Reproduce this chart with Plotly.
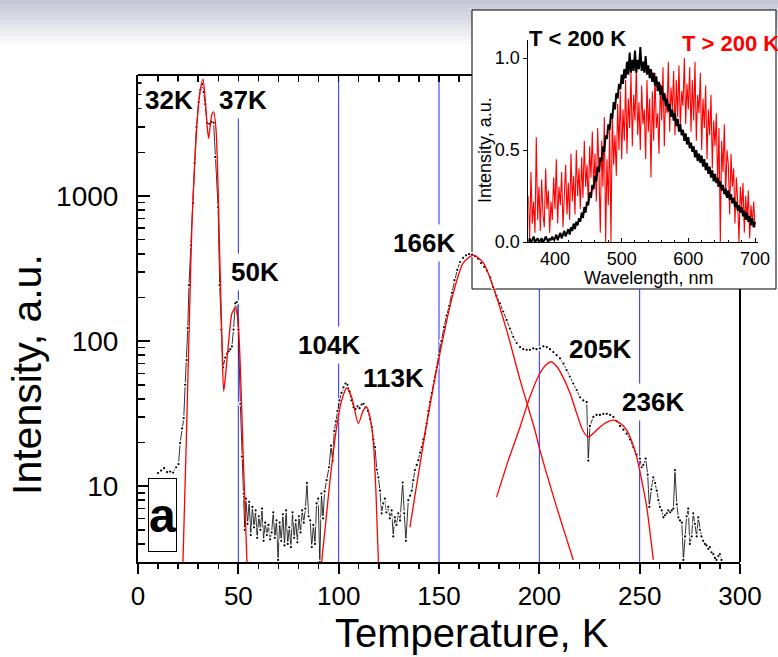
import math
import plotly.graph_objects as go

# ---------------- data ----------------
temperature_K = [
    10.0, 11.5, 13.0, 14.5, 16.0, 17.5, 19.0, 20.2, 21.0, 22.0, 22.8, 23.5, 24.2, 24.8, 25.4,
    26.4, 27.4, 28.2, 29.1, 30.2, 31.1, 31.9, 32.7, 33.5, 34.4, 35.5, 36.6, 37.7, 38.5, 39.9,
    40.7, 41.5, 42.4, 43.5, 44.4, 45.2, 46.0, 46.8, 47.6, 48.5, 49.2, 50.0, 51.0, 51.8, 52.7,
    53.2, 53.8, 54.6, 55.4, 56.2, 57.0, 57.8, 58.6, 59.4, 60.2, 61.0, 61.8, 62.6, 63.4, 64.2,
    65.0, 65.8, 66.6, 67.4, 68.2, 69.0, 69.8, 70.6, 71.4, 72.2, 73.0, 73.8, 74.6, 75.4, 76.2,
    77.0, 77.8, 78.6, 79.4, 80.2, 81.0, 81.8, 82.6, 83.4, 84.2, 85.0, 85.8, 86.6, 87.4, 88.2,
    89.0, 89.8, 90.6, 91.4, 92.2, 93.0, 94.0, 95.2, 96.2, 97.0, 97.8, 98.6, 99.4, 100.4, 101.4,
    102.4, 103.4, 104.4, 105.4, 106.4, 107.4, 108.4, 109.4, 110.4, 111.4, 112.4, 113.4, 114.6, 115.6, 116.5,
    117.3, 118.1, 119.0, 119.8, 120.6, 121.4, 122.2, 123.0, 123.8, 124.7, 125.5, 126.4, 127.2, 128.0, 128.8,
    129.7, 130.6, 131.9, 132.7, 133.5, 134.7, 135.6, 136.4, 137.2, 138.0, 138.9, 139.7, 140.6, 141.4, 142.2,
    143.0, 143.8, 144.7, 145.5, 146.4, 147.6, 148.9, 150.0, 151.2, 152.5, 153.8, 155.1, 156.4, 157.7, 159.1,
    160.5, 162.0, 163.5, 165.0, 166.5, 168.0, 169.5, 171.0, 172.5, 174.0, 175.5, 177.0, 178.6, 180.4, 182.0,
    183.7, 185.3, 187.0, 188.7, 190.4, 192.0, 193.7, 195.3, 197.0, 198.6, 200.3, 202.0, 203.7, 205.3, 207.0,
    208.6, 210.3, 212.0, 213.6, 215.2, 216.9, 218.6, 220.3, 221.9, 223.6, 224.4, 225.2, 226.9, 228.5, 230.2,
    231.9, 233.6, 235.3, 236.9, 238.6, 240.2, 241.9, 243.5, 245.2, 246.8, 248.5, 250.1, 251.0, 251.8, 253.0,
    254.0, 254.8, 255.8, 256.8, 257.7, 258.5, 259.3, 260.1, 261.0, 261.8, 262.6, 263.5, 264.3, 265.2, 266.0,
    266.8, 267.6, 268.5, 269.3, 270.1, 271.0, 271.8, 272.6, 273.4, 274.2, 275.0, 275.9, 276.7, 277.5, 278.4,
    279.2, 280.0, 280.8, 281.6, 282.5, 283.3, 284.2, 285.0, 285.8, 286.7, 287.5, 288.3, 289.2, 290.0, 290.8,
]
intensity_au = [
    12.3, 12.8, 13.3, 12.5, 12.6, 12.4, 13.5, 14.2, 19.8, 25.0, 29.5, 50, 74, 123, 243,
    458, 895, 1690, 2990, 4450, 5400, 5900, 5200, 4300, 3200, 3150, 3250, 3200, 1860, 840,
    243, 120, 66, 77, 82, 85, 88, 92, 120, 182, 186, 120, 37, 16, 8.9,
    5.0, 8.2, 5.5, 7.8, 4.6, 7.2, 5.2, 6.8, 4.4, 6.2, 5.0, 7.0, 4.2, 5.6, 4.6,
    5.4, 4.3, 4.8, 6.6, 4.4, 5.8, 3.1, 5.6, 4.2, 6.4, 3.9, 6.8, 4.0, 5.2, 3.8,
    6.6, 4.4, 5.8, 4.1, 6.2, 4.8, 6.8, 5.6, 7.0, 10.5, 6.2, 5.8, 3.8, 5.4, 4.0,
    7.6, 8.2, 3.0, 8.9, 6.0, 9.2, 11.0, 13.5, 19.0, 15.0, 24.0, 28, 33, 39, 44,
    48, 51, 50, 45, 39, 35, 34, 35.5, 34.5, 36.5, 37, 35, 33, 29, 25.6,
    21, 18.6, 13, 11.5, 9.3, 6.5, 7.6, 8.2, 6.6, 7.2, 6.0, 6.8, 4.5, 6.1, 5.4,
    6.5, 5.8, 10.6, 6.5, 4.2, 8.0, 8.6, 9.3, 11.0, 12.9, 14.0, 15.1, 17, 18.6, 21,
    23, 27, 33, 38, 44, 53, 66, 80, 100, 125, 150, 175, 215, 263, 310,
    351, 375, 390, 398, 395, 385, 370, 345, 325, 305, 275, 236, 205, 182, 160,
    140, 122, 107, 97, 91, 88, 87, 87, 89, 88, 89, 92, 91, 88, 84,
    80, 76, 70, 63, 57, 51, 46, 41, 39, 38, 15, 26, 30, 31, 31,
    31.5, 31.5, 31, 30, 28, 26, 24.5, 23, 21, 18.6, 16.5, 15.5, 13.5, 14, 15.5,
    12, 7.2, 9.5, 11.5, 10.5, 9.3, 8.0, 7.2, 6.8, 6.1, 6.3, 6.5, 6.8, 6.6, 6.8,
    7.0, 12.9, 7.5, 6.1, 5.8, 5.6, 3.1, 4.5, 6.2, 7.0, 4.0, 4.5, 6.5, 5.5, 4.5,
    6.1, 5.0, 4.5, 4.2, 4.0, 3.9, 3.7, 3.8, 3.5, 3.4, 3.2, 3.1, 3.3, 3.4, 3.1,
]

# fitted peak envelopes (red)
fit1_T = [22.4, 24.0, 25.6, 26.9, 28.1, 29.4, 31.0, 32.4, 33.5, 34.5, 35.2, 36.0, 36.8, 37.7, 38.9,
          39.9, 40.7, 41.4, 41.9, 42.7, 43.5, 45.2, 46.8, 48.5, 49.8, 51.0, 52.3, 53.5, 54.3]
fit1_I = [3.0, 19, 140, 650, 1510, 3170, 5380, 6400, 4600, 3000, 2500, 3050, 3650, 3800, 2850,
          1150, 400, 175, 87, 45, 56, 100, 155, 170, 140, 66, 18, 6.2, 3.0]
fit2_T = [91.5, 93.6, 95.7, 99.0, 101.5, 104.0, 106.5, 109.8, 112.3, 114.0, 115.6, 117.3, 118.6, 119.8]
fit2_I = [3.0, 5.7, 11, 25.6, 39, 47.5, 41, 27, 33.4, 35, 30, 20, 8.9, 3.0]
fit3_T = [135.5, 143.9, 150.5, 157.1, 162.1, 167.1, 172.1, 177.0, 183.7, 190.4, 197.8, 200.3, 208.6, 216.9]
fit3_I = [5.2, 27, 83, 214, 346, 392, 346, 236, 119, 54, 24.3, 17.7, 7.2, 3.1]
fit4_T = [178.7, 184.5, 190.4, 195.5, 200.3, 203.5, 206.1, 209.0, 211.9, 215.5, 218.6, 221.5,
          224.4, 227.5, 230.2, 233.5, 236.9, 240.5, 243.5, 246.0, 248.5, 251.0, 253.5, 256.8]
fit4_I = [8.4, 15, 25.6, 42, 60, 69, 72, 66, 56, 43, 31.8, 24.5,
          21.8, 23.5, 25.6, 27.5, 28.5, 27, 24.3, 20.5, 15.9, 11, 7.2, 3.1]
fits = [(fit1_T, fit1_I), (fit2_T, fit2_I), (fit3_T, fit3_I), (fit4_T, fit4_I)]

peak_labels = ["32K", "37K", "50K", "104K", "113K", "166K", "205K", "236K"]
ref_lines_T = [50, 100, 150, 200, 250]
main_x_ticks = [0, 50, 100, 150, 200, 250, 300]
main_y_ticks = [10, 100, 1000]
main_y_minor = [3, 4, 5, 6, 7, 8, 9, 20, 30, 40, 50, 60, 70, 80, 90,
                200, 300, 400, 500, 600, 700, 800, 900, 2000, 3000, 4000, 5000, 6000]

# inset spectra (2 nm steps)
wavelength_nm = [
    360, 362, 364, 366, 368, 370, 372, 374, 376, 378,
    380, 382, 384, 386, 388, 390, 392, 394, 396, 398,
    400, 402, 404, 406, 408, 410, 412, 414, 416, 418,
    420, 422, 424, 426, 428, 430, 432, 434, 436, 438,
    440, 442, 444, 446, 448, 450, 452, 454, 456, 458,
    460, 462, 464, 466, 468, 470, 472, 474, 476, 478,
    480, 482, 484, 486, 488, 490, 492, 494, 496, 498,
    500, 502, 504, 506, 508, 510, 512, 514, 516, 518,
    520, 522, 524, 526, 528, 530, 532, 534, 536, 538,
    540, 542, 544, 546, 548, 550, 552, 554, 556, 558,
    560, 562, 564, 566, 568, 570, 572, 574, 576, 578,
    580, 582, 584, 586, 588, 590, 592, 594, 596, 598,
    600, 602, 604, 606, 608, 610, 612, 614, 616, 618,
    620, 622, 624, 626, 628, 630, 632, 634, 636, 638,
    640, 642, 644, 646, 648, 650, 652, 654, 656, 658,
    660, 662, 664, 666, 668, 670, 672, 674, 676, 678,
    680, 682, 684, 686, 688, 690, 692, 694, 696, 698,
    700,
]
spectrum_below_200K = [
    0.00, 0.02, 0.00, 0.01, 0.03, 0.00, 0.01, 0.02, 0.00, 0.01,
    0.02, 0.00, 0.01, 0.03, 0.01, 0.00, 0.02, 0.01, 0.03, 0.01,
    0.02, 0.04, 0.01, 0.03, 0.05, 0.02, 0.04, 0.06, 0.03, 0.05,
    0.07, 0.04, 0.08, 0.06, 0.10, 0.07, 0.11, 0.09, 0.13, 0.11,
    0.16, 0.13, 0.19, 0.16, 0.22, 0.20, 0.27, 0.24, 0.31, 0.29,
    0.36, 0.33, 0.41, 0.38, 0.46, 0.44, 0.52, 0.49, 0.58, 0.56,
    0.64, 0.61, 0.70, 0.67, 0.76, 0.72, 0.81, 0.78, 0.86, 0.83,
    0.91, 0.86, 0.94, 0.89, 0.98, 0.91, 1.03, 0.92, 0.99, 0.93,
    1.04, 0.92, 0.99, 0.94, 1.06, 0.93, 0.98, 0.92, 1.01, 0.91,
    0.96, 0.89, 0.94, 0.87, 0.92, 0.85, 0.90, 0.82, 0.87, 0.80,
    0.85, 0.77, 0.81, 0.74, 0.78, 0.71, 0.75, 0.68, 0.72, 0.66,
    0.70, 0.63, 0.67, 0.60, 0.64, 0.58, 0.61, 0.55, 0.59, 0.53,
    0.57, 0.51, 0.54, 0.49, 0.52, 0.46, 0.50, 0.44, 0.48, 0.43,
    0.47, 0.41, 0.45, 0.39, 0.43, 0.37, 0.41, 0.35, 0.39, 0.33,
    0.37, 0.32, 0.35, 0.30, 0.33, 0.28, 0.31, 0.26, 0.29, 0.24,
    0.28, 0.23, 0.26, 0.21, 0.24, 0.19, 0.22, 0.17, 0.20, 0.16,
    0.19, 0.14, 0.17, 0.12, 0.16, 0.11, 0.14, 0.09, 0.13, 0.08,
    0.11,
]
spectrum_above_200K = [
    0.25, 0.02, 0.38, 0.10, 0.22, 0.05, 0.57, 0.12, 0.30, 0.06,
    0.34, 0.15, 0.08, 0.40, 0.18, 0.28, 0.05, 0.22, 0.12, 0.35,
    0.18, 0.45, 0.10, 0.30, 0.20, 0.38, 0.08, 0.26, 0.42, 0.15,
    0.32, 0.12, 0.48, 0.22, 0.36, 0.15, 0.50, 0.25, 0.40, 0.18,
    0.46, 0.24, 0.55, 0.30, 0.42, 0.20, 0.52, 0.35, 0.60, 0.28,
    0.48, 0.22, 0.62, 0.38, 0.05, 0.55, 0.30, 0.68, 0.00, 0.45,
    0.20, 0.62, 0.00, 0.70, 0.42, 0.58, 0.36, 0.75, 0.50, 0.82,
    0.45, 0.72, 0.55, 0.88, 0.48, 0.78, 0.62, 0.92, 0.52, 0.80,
    0.66, 0.95, 0.58, 0.76, 0.50, 0.85, 0.64, 0.72, 0.45, 0.88,
    0.60, 0.78, 0.35, 0.82, 0.55, 0.92, 0.62, 0.70, 0.48, 0.86,
    0.66, 0.95, 0.52, 0.80, 0.70, 0.98, 0.60, 0.84, 0.72, 0.93,
    0.58, 0.88, 0.68, 0.96, 0.62, 0.82, 0.74, 1.00, 0.64, 0.86,
    0.72, 0.95, 0.60, 0.88, 0.66, 0.98, 0.55, 0.80, 0.70, 0.92,
    0.50, 0.78, 0.62, 0.85, 0.45, 0.72, 0.58, 0.80, 0.40, 0.66,
    0.52, 0.70, 0.30, 0.62, 0.00, 0.55, 0.38, 0.64, 0.25, 0.50,
    0.42, 0.15, 0.48, 0.30, 0.40, 0.10, 0.35, 0.22, 0.00, 0.30,
    0.18, 0.32, 0.05, 0.25, 0.12, 0.28, 0.02, 0.20, 0.10, 0.22,
    0.08,
]
inset_x_ticks = [400, 500, 600, 700]
inset_y_ticks = [0.0, 0.5, 1.0]

# ---------------- layout helpers (pixel -> paper) ----------------
W, H = 778, 657
ML, MR, MT, MB = 138, 10, 10, 95
PW, PH = W - ML - MR, H - MT - MB


def fx(px):
    return (px - ML) / PW


def fy(py):
    return (H - MB - py) / PH


FONT = "Liberation Sans, Arial, sans-serif"
BLUE = "rgb(40,40,255)"

fig = go.Figure()

# black measured curve: thin line, white gaps around points, then dots
fig.add_trace(go.Scatter(x=temperature_K, y=intensity_au, mode="lines",
                         line=dict(color="black", width=0.8), hoverinfo="skip"))
fig.add_trace(go.Scatter(x=temperature_K, y=intensity_au, mode="markers",
                         marker=dict(color="white", size=5, line=dict(width=0)), hoverinfo="skip"))
fig.add_trace(go.Scatter(x=temperature_K, y=intensity_au, mode="markers",
                         marker=dict(color="black", size=2.2, line=dict(width=0))))
for ft, fi in fits:
    fig.add_trace(go.Scatter(x=ft, y=fi, mode="lines",
                             line=dict(color="red", width=1.3, shape="spline", smoothing=0.7)))

# inset spectra
fig.add_trace(go.Scatter(x=wavelength_nm, y=spectrum_above_200K, mode="lines",
                         line=dict(color="red", width=1.1), xaxis="x2", yaxis="y2"))
fig.add_trace(go.Scatter(x=wavelength_nm, y=spectrum_below_200K, mode="lines",
                         line=dict(color="black", width=2), xaxis="x2", yaxis="y2"))
# carrier for the partial top / right frame axes
fig.add_trace(go.Scatter(x=[None], y=[None], xaxis="x3", yaxis="y3", showlegend=False))

shapes = []
# slide-like gradient at the top
n_strips = 11
for i in range(n_strips):
    t = i / n_strips
    c = (int(198 + 57 * t), int(198 + 57 * t), int(214 + 41 * t))
    shapes.append(dict(type="rect", xref="paper", yref="paper", layer="below",
                       x0=fx(0), x1=fx(W), y0=fy(4 * (i + 1)), y1=fy(4 * i),
                       fillcolor="rgb(%d,%d,%d)" % c, line=dict(width=0)))
# inset frame
shapes.append(dict(type="rect", xref="paper", yref="paper", layer="below",
                   x0=fx(472), x1=fx(776), y0=fy(289), y1=fy(10),
                   fillcolor="white", line=dict(color="black", width=1)))
# blue reference lines
line_tops = {50: fy(114), 100: fy(75), 150: fy(75), 200: fy(289), 250: fy(289)}
for tv in ref_lines_T:
    shapes.append(dict(type="line", xref="x", yref="paper", layer="below",
                       x0=tv, x1=tv, y0=0, y1=line_tops[tv],
                       line=dict(color=BLUE, width=1)))

annotations = []
label_pos = [(169, 100), (243, 100), (255, 272), (329, 345), (393, 378),
             (424, 243), (600, 349), (653, 402)]
for txt, (px, py) in zip(peak_labels, label_pos):
    annotations.append(dict(text="<b>%s</b>" % txt, xref="paper", yref="paper",
                            x=fx(px), y=fy(py), xanchor="center", yanchor="middle",
                            showarrow=False, bgcolor="white", borderpad=3,
                            font=dict(family=FONT, size=26, color="black")))
# panel letter
annotations.append(dict(text="<b>a</b>", xref="paper", yref="paper",
                        x=fx(162.5), y=fy(515), xanchor="center", yanchor="middle",
                        width=27, height=72, showarrow=False, bgcolor="white",
                        bordercolor="black", borderwidth=1, borderpad=0,
                        font=dict(family=FONT, size=48, color="black")))
# main axis titles
annotations.append(dict(text="Temperature, K", xref="paper", yref="paper",
                        x=fx(472), y=fy(633), xanchor="center", yanchor="middle",
                        showarrow=False, font=dict(family=FONT, size=40, color="black")))
annotations.append(dict(text="Intensity, a.u.", xref="paper", yref="paper",
                        x=fx(27), y=fy(374), xanchor="center", yanchor="middle",
                        textangle=-90, showarrow=False,
                        font=dict(family=FONT, size=41, color="black")))
# inset texts
annotations.append(dict(text="Wavelength, nm", xref="paper", yref="paper",
                        x=fx(648), y=fy(278), xanchor="center", yanchor="middle",
                        showarrow=False, font=dict(family=FONT, size=18, color="black")))
annotations.append(dict(text="Intensity, a.u.", xref="paper", yref="paper",
                        x=fx(485), y=fy(150), xanchor="center", yanchor="middle",
                        textangle=-90, showarrow=False,
                        font=dict(family=FONT, size=18, color="black")))
annotations.append(dict(text="<b>T &lt; 200 K</b>", xref="paper", yref="paper",
                        x=fx(577), y=fy(38), xanchor="center", yanchor="middle",
                        showarrow=False, font=dict(family=FONT, size=22, color="black")))
annotations.append(dict(text="<b>T &gt; 200 K</b>", xref="paper", yref="paper",
                        x=fx(680), y=fy(43), xanchor="left", yanchor="middle",
                        showarrow=False, font=dict(family=FONT, size=22, color="red")))

ymin, ymax = math.log10(3.0), math.log10(6830)

fig.update_layout(
    width=W, height=H,
    margin=dict(l=ML, r=MR, t=MT, b=MB, autoexpand=False),
    paper_bgcolor="white", plot_bgcolor="rgba(0,0,0,0)",
    showlegend=False,
    font=dict(family=FONT, color="black"),
    shapes=shapes, annotations=annotations,
    xaxis=dict(domain=[0, fx(740)], range=[0, 300], anchor="y", automargin=False,
               showline=True, linewidth=2, linecolor="black", mirror=False,
               showgrid=False, zeroline=False,
               tickvals=main_x_ticks, ticks="outside", ticklen=10, tickwidth=2, tickcolor="black",
               tickfont=dict(family=FONT, size=26), ticklabelstandoff=0,
               minor=dict(ticks="outside", ticklen=5, tickwidth=1.5, tickcolor="black",
                          dtick=10, tick0=0, showgrid=False)),
    yaxis=dict(domain=[0, fy(75)], type="log", range=[ymin, ymax], anchor="x", automargin=False,
               showline=True, linewidth=2, linecolor="black", mirror=False,
               showgrid=False, zeroline=False,
               tickvals=main_y_ticks, ticktext=[str(v) for v in main_y_ticks],
               ticks="inside", ticklen=12, tickwidth=2, tickcolor="black",
               tickfont=dict(family=FONT, size=28), ticklabelstandoff=12,
               minor=dict(ticks="inside", ticklen=7, tickwidth=1.5, tickcolor="black",
                          tickvals=main_y_minor, showgrid=False)),
    xaxis3=dict(domain=[0, fx(472)], range=[0, (472 - 138) / (602 / 300)], automargin=False,
                anchor="free", position=fy(75), side="top",
                showline=True, linewidth=2, linecolor="black",
                showgrid=False, zeroline=False, showticklabels=False,
                ticks="inside", ticklen=6, tickwidth=1.5, tickcolor="black", dtick=10, tick0=0),
    yaxis3=dict(domain=[0, fy(289)], range=[0, 1], anchor="free", position=fx(740), side="right",
                automargin=False, showline=True, linewidth=2, linecolor="black",
                showgrid=False, zeroline=False, showticklabels=False, ticks=""),
    xaxis2=dict(domain=[fx(528.3), fx(758)], range=[360, 704.5], anchor="y2", automargin=False,
                showline=True, linewidth=1, linecolor="black", showgrid=False, zeroline=False,
                tickvals=inset_x_ticks, ticks="inside", ticklen=4, tickwidth=1, tickcolor="black",
                tickfont=dict(family=FONT, size=18),
                minor=dict(ticks="inside", ticklen=2, tickwidth=1, tickcolor="black",
                           dtick=20, tick0=0, showgrid=False)),
    yaxis2=dict(domain=[fy(242), fy(40)], range=[0, 1.098], anchor="x2", automargin=False,
                showline=True, linewidth=1, linecolor="black", showgrid=False, zeroline=False,
                tickvals=inset_y_ticks, ticktext=["0.0", "0.5", "1.0"],
                ticks="outside", ticklen=4, tickwidth=1, tickcolor="black",
                tickfont=dict(family=FONT, size=18)),
)

# remove the browser's default 8px page margin so the figure sits at (0, 0)
fig.write_html("out.html", config={"displayModeBar": False, "staticPlot": True},
               post_script="document.body.style.margin='0';document.body.style.overflow='hidden';")
